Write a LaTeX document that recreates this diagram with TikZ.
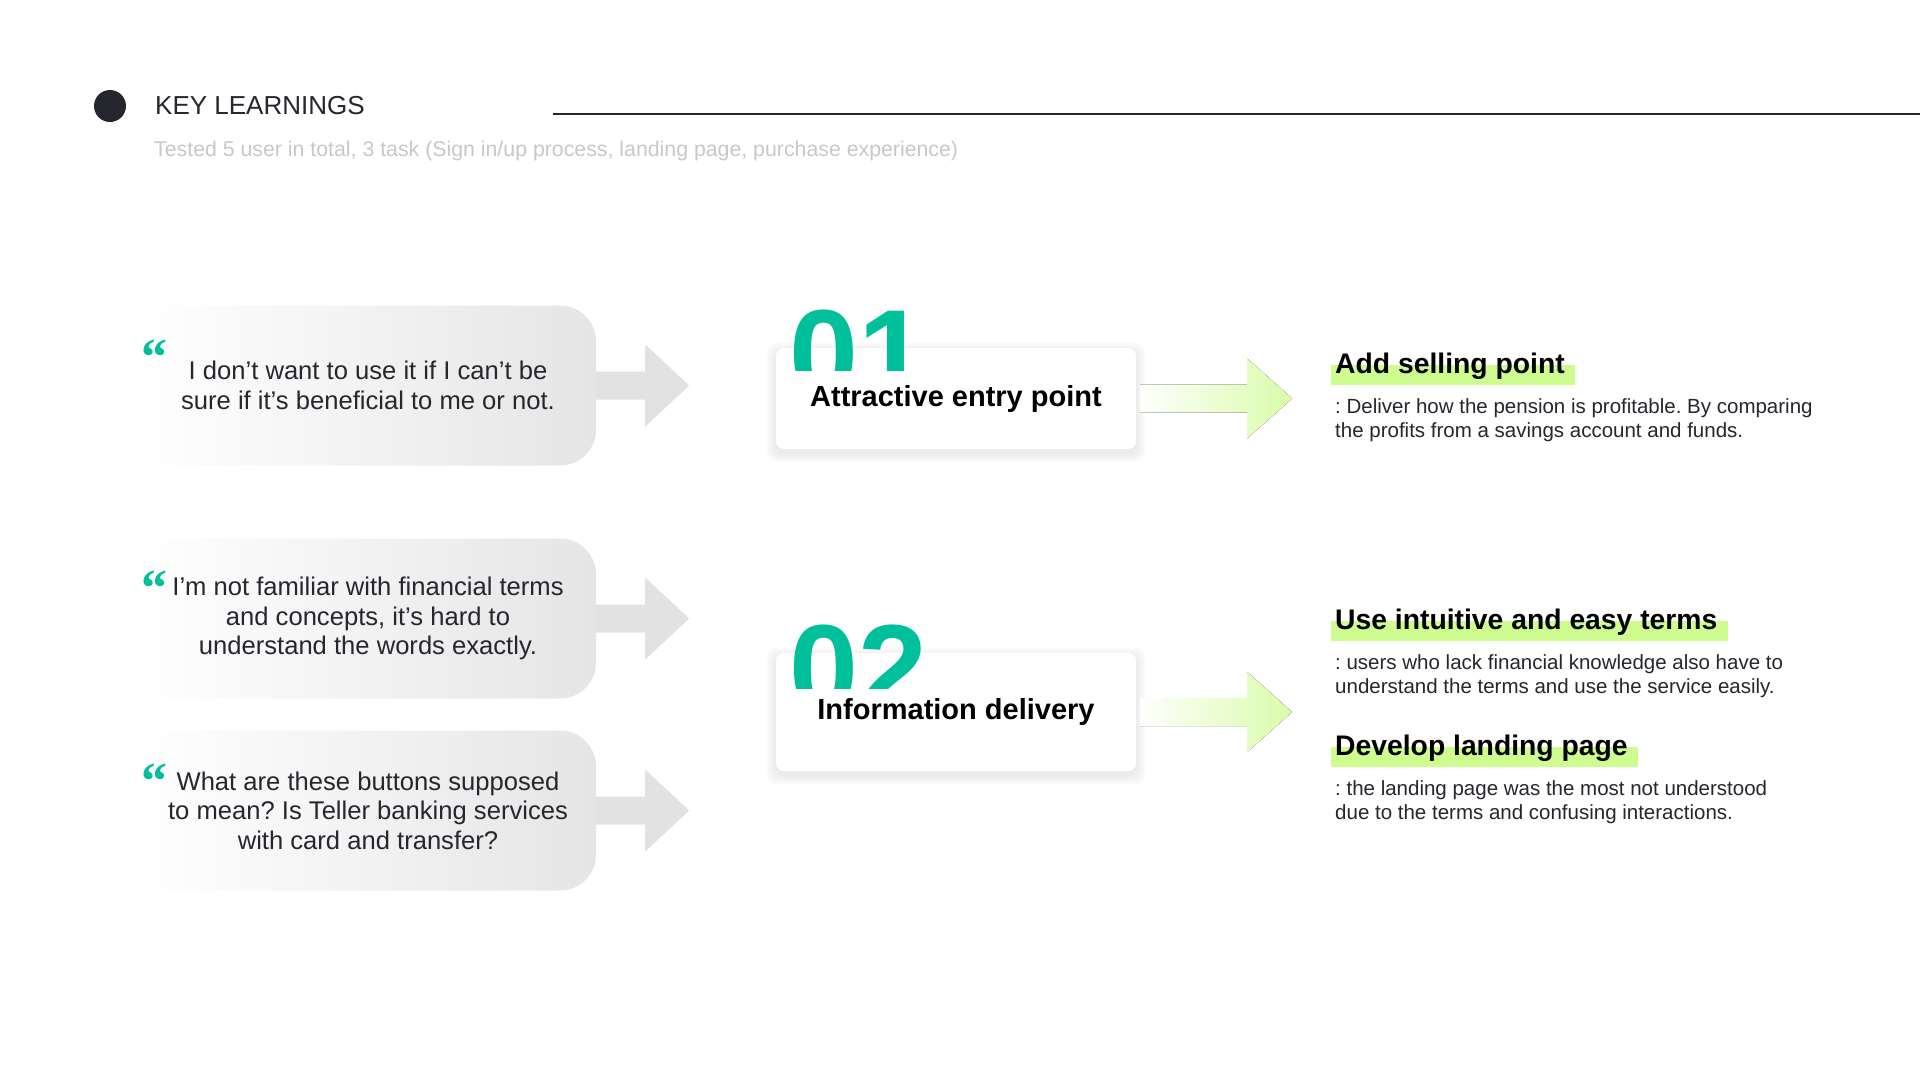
\documentclass[tikz,border=0pt]{standalone}
\usepackage{fontspec}
\setmainfont{Liberation Sans}
\newfontfamily\quotefont{Liberation Serif}
\usetikzlibrary{backgrounds,calc}
\definecolor{teal1}{RGB}{0,191,155}
\definecolor{lime1}{RGB}{218,252,170}
\definecolor{limebar}{RGB}{206,252,142}
\definecolor{qgray}{RGB}{229,229,229}
\definecolor{agray}{RGB}{226,226,226}
\definecolor{ink}{RGB}{38,38,46}
\definecolor{subgray}{RGB}{200,200,200}
\frenchspacing

\begin{document}
\begin{tikzpicture}[x=1pt, y=-1pt,
	quotebox/.style={rounded corners=36pt, minimum width=456pt, minimum height=160pt, left color=white, right color=qgray, align=center, text=ink, inner sep=0pt, font=\fontsize{25.6}{29.5}\selectfont},
	qmark/.style={anchor=north west, inner sep=0pt, text=teal1, font=\quotefont\bfseries\fontsize{52}{52}\selectfont},
	numbox/.style={fill=white, rounded corners=8pt, minimum width=360pt, inner sep=0pt, font=\bfseries\fontsize{29}{34}\selectfont},
	digit/.style={anchor=north west, inner sep=0pt, text=teal1, font=\bfseries\fontsize{124}{130}\selectfont},
	head/.style={anchor=west, inner sep=0pt, font=\bfseries\fontsize{28.3}{32}\selectfont},
	desc/.style={anchor=west, inner sep=0pt, align=left, text=ink, font=\fontsize{20.5}{24.5}\selectfont},
	grayarrow/.style={fill=agray},
	greenarrow/.style={left color=white, right color=lime1},
	hilite/.style={fill=limebar}]
	\useasboundingbox (0,0) rectangle (1920,1080);
	% Hintergrund
	\begin{scope}[on background layer]
		\fill[white] (0,0) rectangle (1920,1080);
	\end{scope}

	% header
	\node[circle, fill=ink, minimum size=32pt, inner sep=0pt] (dot) at (110,106) {};
	\node[anchor=west, inner sep=0pt, text=ink, font=\fontsize{26}{30}\selectfont] (title) at (155,106) {KEY LEARNINGS};
	\coordinate (lineL) at (553,114);
	\coordinate (lineR) at (1920,114);
	\draw[ink, line width=1.2pt] (lineL) -- (lineR);
	\node[anchor=west, inner sep=0pt, text=subgray, font=\fontsize{21.3}{24}\selectfont] (sub) at (154,151) {Tested 5 user in total, 3 task (Sign in/up process, landing page, purchase experience)};

	% quotes
	\node[quotebox] (q1) at (368,385.5) {I don't want to use it if I can't be\\sure if it's beneficial to me or not.};
	\node[quotebox] (q2) at (368,618.5) {I'm not familiar with financial terms\\and concepts, it's hard to\\understand the words exactly.};
	\node[quotebox] (q3) at (368,810.5) {What are these buttons supposed\\to mean? Is Teller banking services\\with card and transfer?};
	\node[qmark] (m1) at (141,340) {“};
	\node[qmark] (m2) at (141,571) {“};
	\node[qmark] (m3) at (141,764) {“};
	\foreach \q in {q1,q2,q3}
		\fill[grayarrow] (\q.east) ++(0,-14) -- ++(49,0) -- ++(0,-27) -- ++(44,41) -- ++(-44,41) -- ++(0,-27) -- ++(-49,0) -- cycle;

	% number boxes
	\node[numbox, minimum height=101pt] (nb1) at (956,398.5) {Attractive entry point};
	\node[numbox, minimum height=118pt] (nb2) at (956,712) {Information delivery};
	\begin{scope}[on background layer]
		\foreach \b in {nb1,nb2}
			\foreach \g in {1,...,10}
				\fill[black, opacity=0.008, rounded corners=10pt] ($(\b.north west)+(-\g,-\g+4)$) rectangle ($(\b.south east)+(\g,\g+4)$);
	\end{scope}
	\begin{scope}
		\clip (770,280) rectangle (1000,370);
		\node[digit] (n1) at (789,310) {01};
	\end{scope}
	\begin{scope}
		\clip (770,590) rectangle (1000,688);
		\node[digit] (n2) at (789,625) {02};
	\end{scope}
	\foreach \b in {nb1,nb2}
		\fill[greenarrow] (\b.east) ++(4,-14) -- ++(107,0) -- ++(0,-26) -- ++(45,40) -- ++(-45,40) -- ++(0,-26) -- ++(-107,0) -- cycle;

	% learnings
	\node[head] (h1) at (1335,366) {Add selling point};
	\node[desc] (d1) at (1335,420) {: Deliver how the pension is profitable. By comparing\\the profits from a savings account and funds.};
	\node[head] (h2) at (1335,622) {Use intuitive and easy terms};
	\node[desc] (d2) at (1335,676) {: users who lack financial knowledge also have to\\understand the terms and use the service easily.};
	\node[head] (h3) at (1335,748) {Develop landing page};
	\node[desc] (d3) at (1335,802) {: the landing page was the most not understood\\due to the terms and confusing interactions.};
	\begin{scope}[on background layer]
		\foreach \h in {h1,h2,h3}
			\fill[hilite] ($(\h.west)+(-4,-1)$) rectangle ($(\h.east)+(10,19)$);
	\end{scope}
\end{tikzpicture}
\end{document}
